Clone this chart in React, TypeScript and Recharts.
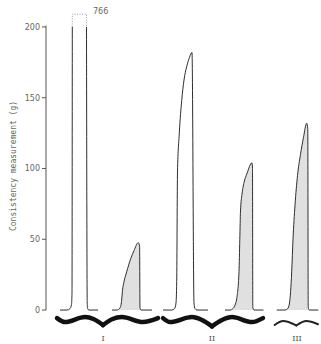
import React from 'react';
import {
  ComposedChart,
  Line,
  Area,
  XAxis,
  YAxis,
  ReferenceLine,
  ReferenceDot,
} from 'recharts';

// t = trace position (chart units), v = consistency (g)
const traceI1Rise = [
  { t: 14, v: 0 }, { t: 21, v: 0 }, { t: 24, v: 1 }, { t: 25.5, v: 4 }, { t: 26, v: 12 }, { t: 26.3, v: 200 },
];
const traceI1Off = [
  { t: 26.3, v: 200 }, { t: 26.3, v: 209 }, { t: 40.5, v: 209 }, { t: 40.5, v: 200 },
];
const traceI1Fall = [
  { t: 40.5, v: 200 }, { t: 41.2, v: 6 }, { t: 41.6, v: 1 }, { t: 43, v: 0 }, { t: 52, v: 0 },
];
const traceI2 = [
  { t: 66, v: 0 }, { t: 71, v: 0 }, { t: 74, v: 1.5 }, { t: 75.5, v: 6 }, { t: 76.5, v: 14 },
  { t: 78, v: 20 }, { t: 80.7, v: 27 }, { t: 84.7, v: 36.3 }, { t: 88, v: 42 }, { t: 92.3, v: 47.6 },
  { t: 93.6, v: 45 }, { t: 94, v: 1.5 }, { t: 95, v: 0 }, { t: 106, v: 0 },
];
const traceII1 = [
  { t: 117, v: 0 }, { t: 125.7, v: 0 }, { t: 128.5, v: 1 }, { t: 130, v: 5 }, { t: 130.7, v: 20 },
  { t: 131.5, v: 97.5 }, { t: 133.3, v: 125 }, { t: 135.7, v: 148 }, { t: 138, v: 162.5 },
  { t: 140.7, v: 172 }, { t: 143.5, v: 178.5 }, { t: 146, v: 182 },
  { t: 148, v: 5 }, { t: 149, v: 1 }, { t: 151, v: 0 }, { t: 162, v: 0 },
];
const traceII2 = [
  { t: 179, v: 0 }, { t: 184, v: 0 }, { t: 187.3, v: 1.3 }, { t: 189, v: 3.5 }, { t: 190.7, v: 8 },
  { t: 193, v: 27 }, { t: 193.8, v: 50 }, { t: 194.5, v: 70 }, { t: 196, v: 82 }, { t: 198, v: 90 },
  { t: 201, v: 96.5 }, { t: 206, v: 104 }, { t: 206.5, v: 100 }, { t: 206.8, v: 2 }, { t: 208, v: 0 },
  { t: 217.5, v: 0 },
];
const traceIII = [
  { t: 230.7, v: 0 }, { t: 239, v: 0 }, { t: 241.7, v: 1 }, { t: 243.5, v: 5 }, { t: 245.7, v: 27 },
  { t: 247, v: 50 }, { t: 249, v: 74 }, { t: 251.5, v: 95 }, { t: 254.5, v: 110 }, { t: 257.5, v: 122 },
  { t: 260.7, v: 132 }, { t: 261.8, v: 128 }, { t: 262.2, v: 2 }, { t: 263.3, v: 0 }, { t: 272.3, v: 0 },
];

// braces under each group (halves meet at the point)
const braceILeft = [
  { t: 11, v: -5.7 }, { t: 19, v: -8.5 }, { t: 39, v: -4.9 }, { t: 48, v: -6.5 }, { t: 57, v: -10.6 },
];
const braceIRight = [
  { t: 57, v: -10.6 }, { t: 66, v: -6.5 }, { t: 76, v: -4.9 }, { t: 97, v: -8.5 }, { t: 112, v: -5.7 },
];
const braceIILeft = [
  { t: 117, v: -5.7 }, { t: 124, v: -8.5 }, { t: 146, v: -4.9 }, { t: 156, v: -7 }, { t: 166, v: -11.5 },
];
const braceIIRight = [
  { t: 166, v: -11.5 }, { t: 176, v: -7 }, { t: 186, v: -4.9 }, { t: 206, v: -8.5 }, { t: 217, v: -5.7 },
];
const braceIIILeft = [
  { t: 228.7, v: -10.6 }, { t: 237, v: -7.8 }, { t: 250.3, v: -10.9 },
];
const braceIIIRight = [
  { t: 250.3, v: -10.9 }, { t: 260.3, v: -7.8 }, { t: 272, v: -10 },
];

const groupPositions = [57, 166, 251];
const groupLabels = ['I', 'II', 'III'];
const yTicks = [0, 50, 100, 150, 200];
const offScaleValue = 766;

const INK = '#2e2e2e';
const SHADE = '#e0e0e0';

const YLabel = (props: any) => {
  const vb = props.viewBox;
  const x = vb.x + 13;
  const y = vb.y + vb.height / 2 - 2;
  return (
    <text
      x={x}
      y={y}
      transform={`rotate(-90 ${x} ${y})`}
      textAnchor="middle"
      dominantBaseline="central"
      fontFamily="DejaVu Sans Mono"
      fontSize={8}
      fill="#666"
    >
      Consistency measurement (g)
    </text>
  );
};

export default function App() {
  const lineProps = {
    dataKey: 'v',
    dot: false,
    activeDot: false,
    isAnimationActive: false,
  } as const;

  return (
    <div style={{ position: 'absolute', left: 0, top: 0, background: '#fff' }}>
      <ComposedChart width={321} height={344} margin={{ top: 6, right: 0, bottom: 0, left: 0 }}>
        <XAxis
          type="number"
          dataKey="t"
          domain={[0, 275]}
          ticks={groupPositions}
          tickFormatter={(v: number) => groupLabels[groupPositions.indexOf(v)]}
          axisLine={false}
          tickLine={false}
          tickSize={3}
          height={14}
          tick={{ fontFamily: 'DejaVu Serif', fontSize: 8, fill: '#555' }}
        />
        <YAxis
          type="number"
          domain={[-14.1, 214.8]}
          ticks={yTicks}
          width={46}
          axisLine={false}
          tickSize={4}
          tickMargin={2}
          tickLine={{ stroke: '#555' }}
          tick={{ fontFamily: 'DejaVu Sans', fontSize: 8, fill: '#666' }}
          label={<YLabel />}
        />
        <ReferenceLine segment={[{ x: 0, y: 0 }, { x: 0, y: 201 }]} stroke="#555" />

        <Line data={traceI1Rise} type="monotone" stroke={INK} strokeWidth={1} {...lineProps} />
        <Line data={traceI1Off} type="linear" stroke="#999" strokeWidth={1} strokeDasharray="1 1.5" {...lineProps} />
        <Line data={traceI1Fall} type="monotone" stroke={INK} strokeWidth={1} {...lineProps} />
        <Area data={traceI2} type="monotone" stroke={INK} strokeWidth={1} fill={SHADE} fillOpacity={1} baseValue={0} {...lineProps} />
        <Line data={traceII1} type="monotone" stroke={INK} strokeWidth={1} {...lineProps} />
        <Area data={traceII2} type="monotone" stroke={INK} strokeWidth={1} fill={SHADE} fillOpacity={1} baseValue={0} {...lineProps} />
        <Area data={traceIII} type="monotone" stroke={INK} strokeWidth={1} fill={SHADE} fillOpacity={1} baseValue={0} {...lineProps} />

        <Line data={braceILeft} type="monotone" stroke="#111" strokeWidth={4.5} strokeLinecap="round" {...lineProps} />
        <Line data={braceIRight} type="monotone" stroke="#111" strokeWidth={4.5} strokeLinecap="round" {...lineProps} />
        <Line data={braceIILeft} type="monotone" stroke="#111" strokeWidth={4.5} strokeLinecap="round" {...lineProps} />
        <Line data={braceIIRight} type="monotone" stroke="#111" strokeWidth={4.5} strokeLinecap="round" {...lineProps} />
        <Line data={braceIIILeft} type="monotone" stroke="#222" strokeWidth={2} strokeLinecap="round" {...lineProps} />
        <Line data={braceIIIRight} type="monotone" stroke="#222" strokeWidth={2} strokeLinecap="round" {...lineProps} />

        <ReferenceDot
          x={44}
          y={211}
          r={0}
          fill="none"
          stroke="none"
          label={{ value: String(offScaleValue), position: 'right', offset: 3, fontSize: 8, fill: '#666', fontFamily: 'DejaVu Sans' }}
        />
      </ComposedChart>
    </div>
  );
}
